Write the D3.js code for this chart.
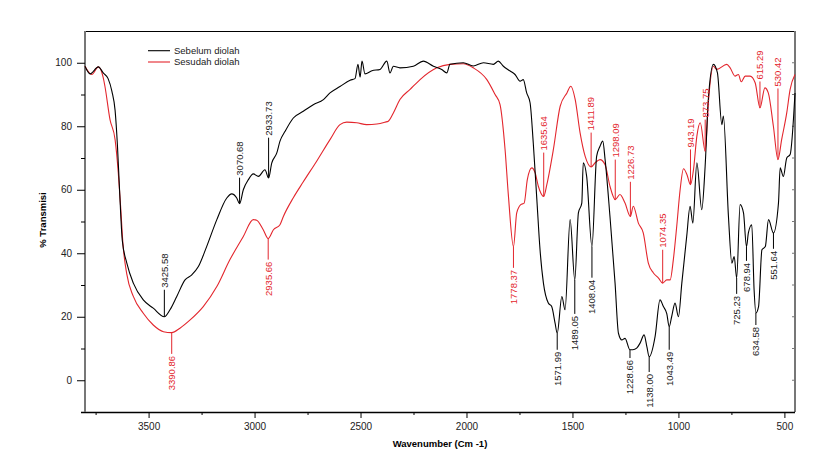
<!DOCTYPE html>
<html>
<head>
<meta charset="utf-8">
<script src="https://cdn.jsdelivr.net/npm/d3@7"></script>
<style>
  body { margin: 0; background: #fff; }
  svg { font-family: "Liberation Sans", Arial, sans-serif; }
</style>
</head>
<body>
<div id="chart"></div>
<script>
// FTIR spectra, before and after treatment

// series: Sebelum diolah (black)
const sebelumWn = [3800, 3776, 3737, 3714, 3691, 3673, 3658, 3647, 3637, 3624, 3603, 3572, 3525, 3478, 3425.58, 3399, 3367, 3328, 3296,
  3265, 3226, 3178, 3131, 3108, 3084, 3070.68, 3053, 3029, 3006, 2982, 2951, 2933.73, 2919, 2895, 2880, 2856, 2817, 2770, 2723,
  2675, 2644, 2597, 2549, 2526, 2512, 2502, 2493, 2479, 2446, 2408, 2376, 2361, 2345, 2314, 2251, 2204, 2156, 2117, 2093, 2078,
  2015, 1968, 1920, 1873, 1850, 1826, 1794, 1771, 1747, 1732, 1716, 1700, 1685, 1668, 1653, 1637, 1614, 1598, 1582, 1571.99,
  1550, 1535, 1511, 1489.05, 1472, 1456, 1449, 1433, 1408.04, 1386, 1370, 1357, 1346, 1323, 1299, 1283, 1267, 1252, 1228.66,
  1215, 1197, 1181, 1162, 1149, 1138.00, 1110, 1087, 1071, 1055, 1043.49, 1032, 1016, 1000, 984, 961, 945, 932, 913, 890, 874,
  859, 835, 816, 795, 788, 764, 748, 737, 725.23, 709, 693, 678.94, 670, 654, 643, 634.58, 622, 606, 590, 575, 551.64, 528, 520,
  505, 489, 473, 450];
const sebelumT = [98.9, 96.5, 98.7, 96.8, 95, 91, 85, 74, 60, 44, 37, 30.6, 25.3, 22.7, 20, 22.2, 26.4, 31.6, 33.2,
  35.8, 42.1, 50.6, 57.4, 58.7, 57.4, 55.6, 60, 63.2, 65, 64.2, 66.3, 63.7, 68.4, 71.6, 75.3, 78.4, 82.6, 84.7, 86.8,
  88.4, 90.5, 92.5, 94.5, 95, 99.5, 95.5, 100.5, 96.5, 97.5, 97.9, 100.5, 96.8, 98.9, 98.4, 98.9, 100.5, 98.9, 97.9, 96.8, 99.5,
  100, 99, 100, 99.5, 100.5, 98.9, 97.4, 96.3, 94.2, 94.7, 90.5, 87.4, 74.8, 56.9, 41.1, 30.6, 24.3, 23.2, 18, 14.8,
  26.4, 22.2, 50.6, 31.6, 52.7, 55.8, 68.5, 64.2, 42.1, 70.5, 73.7, 75.3, 69.5, 51.6, 30.6, 14.8, 12.7, 13.2, 9.6,
  9.6, 10.1, 11.7, 14.3, 10.6, 7.4, 13.8, 25.3, 23.2, 21, 16.9, 20, 24.3, 20, 30.6, 45.3, 54.8, 49.5, 68.5, 53.7, 67.4,
  88.4, 99.5, 96.8, 80.5, 83.2, 51.6, 36.9, 39, 32.2, 55.3, 52.7, 42.1, 46.4, 49, 28.5, 21.2, 23.2, 41.1, 42.1, 50.6, 46.4, 55.8, 66.9,
  64.2, 70, 71.1, 90.5];

// series: Sesudah diolah (red)
const sesudahWn = [3800, 3768, 3737, 3714, 3706, 3682, 3658, 3643, 3632, 3621, 3603, 3572, 3525, 3478, 3430, 3390.86, 3352, 3304,
  3242, 3178, 3116, 3053, 3006, 2990, 2959, 2935.66, 2911, 2880, 2864, 2817, 2770, 2707, 2644, 2597, 2565, 2518, 2471, 2423,
  2384, 2369, 2345, 2314, 2266, 2219, 2140, 2078, 2015, 1968, 1904, 1865, 1842, 1818, 1802, 1778.37, 1763, 1744, 1728, 1713,
  1692, 1676, 1661, 1635.64, 1621, 1590, 1558, 1526, 1508, 1487, 1464, 1440, 1411.89, 1393, 1370, 1346, 1323, 1298.09, 1276,
  1252, 1226.73, 1213, 1189, 1166, 1142, 1118, 1094, 1074.35, 1055, 1039, 1024, 1008, 992, 976, 960, 943.19, 929, 913, 897,
  873.75, 859, 835, 819, 772, 756, 733, 717, 704, 685, 662, 638, 615.29, 592, 576, 552, 530.42, 513, 489, 473, 450];
const sesudahT = [98.9, 96.3, 98.7, 95.3, 92.6, 82.1, 75.8, 65.4, 54.8, 43, 33.5, 26.4, 21.1, 17.4, 15.3, 15, 16.4, 19,
  23.2, 29.5, 38, 45.3, 50.6, 50.4, 47.4, 44.6, 47.4, 49, 51.6, 57.5, 62.5, 69, 75.8, 80.5, 81.3, 81.1, 80.5, 80.7,
  81.3, 81.6, 84.2, 88.4, 91.6, 94.7, 98.4, 99.5, 99.7, 98.4, 94.7, 90, 86.9, 72.7, 57.9, 42.1, 52.7, 55.3, 55.8, 63.2,
  66.9, 65.3, 61.1, 57.9, 61.6, 72.7, 86.3, 90.5, 92.6, 88.4, 77.9, 70.5, 67.2, 68.5, 69.5, 67.9, 61.1, 56.9, 58.5,
  55.8, 51.6, 54.8, 49.5, 46.4, 36.9, 33.8, 32.2, 30.6, 31.6, 31.6, 38, 48.5, 60, 66.6, 64.8, 61.6, 66.3, 76.9, 81.1,
  72.1, 87.4, 98.9, 97.9, 99.5, 98.4, 95.8, 96.3, 94, 95.8, 95.8, 93.7, 85.8, 92.1, 90.5, 80, 69.5, 75.8, 84.2, 91.6, 96.3];

// peak labels: value, transmittance at peak, end of leader line
const sebelumPeaks = ["3425.58", "3070.68", "2933.73", "1571.99", "1489.05", "1408.04", "1228.66", "1138.00", "1043.49", "725.23", "678.94", "634.58", "551.64"];
const sebelumPeakT = [20, 55.6, 63.7, 14.8, 31.6, 42.1, 9.6, 7.4, 16.9, 32.2, 42.1, 21.2, 46.4];
const sebelumTipT = [28.5, 63.8, 76.4, 9.6, 20.9, 32.3, 7, 2.6, 9.6, 27.2, 37.6, 17.4, 41.4];

const sesudahPeaks = ["3390.86", "2935.66", "1778.37", "1635.64", "1411.89", "1298.09", "1226.73", "1074.35", "943.19", "873.75", "615.29", "530.42"];
const sesudahPeakT = [15, 44.6, 42.1, 57.9, 67.2, 56.9, 51.6, 30.6, 61.6, 72.1, 85.8, 69.5];
const sesudahTipT = [8.3, 38, 35.4, 71.7, 78, 69.5, 62.5, 41.1, 72.7, 82.1, 94.1, 91.9];

const legendNames = ["Sebelum diolah", "Sesudah diolah"];
const xMajor = [3500, 3000, 2500, 2000, 1500, 1000, 500];
const xMinor = [3750, 3250, 2750, 2250, 1750, 1250, 750];
const yMajor = [0, 20, 40, 60, 80, 100];
const yMinor = [10, 30, 50, 70, 90];

const RED = "#e3262d";

const margin = { top: 31, right: 44, bottom: 63, left: 85 },
    width = 839 - margin.left - margin.right,
    height = 475 - margin.top - margin.bottom;

const svg = d3.select("#chart").append("svg")
    .attr("width", 839)
    .attr("height", 475);

const g = svg.append("g")
    .attr("transform", `translate(${margin.left},${margin.top})`);

const x = d3.scaleLinear().domain([3800, 450]).range([0, width]);
const y = d3.scaleLinear().domain([-10, 110]).range([height, 0]);

// frame: top border and right side
g.append("line").attr("x1", 0).attr("x2", width).attr("y1", 0.5).attr("y2", 0.5)
    .attr("stroke", "#000").attr("stroke-width", 1);
g.append("line").attr("x1", width).attr("x2", width).attr("y1", 0).attr("y2", height)
    .attr("stroke", "#777").attr("stroke-width", 2);
g.selectAll(".rtick").data(yMajor.concat(yMinor)).enter().append("line")
    .attr("x1", width - 3).attr("x2", width)
    .attr("y1", d => y(d)).attr("y2", d => y(d))
    .attr("stroke", "#777").attr("stroke-width", 1);

// x axis
const xAxis = g.append("g").attr("transform", `translate(0,${height})`)
    .call(d3.axisBottom(x).tickValues(xMajor).tickSize(6).tickPadding(5).tickFormat(d3.format("d")));
g.append("g").attr("transform", `translate(0,${height})`)
    .call(d3.axisBottom(x).tickValues(xMinor).tickSize(3).tickFormat(""))
    .select(".domain").remove();
xAxis.select(".domain").attr("d", `M-4,0.5H${width}`).attr("stroke-width", 1.3);
xAxis.selectAll("text").style("font-size", "10px").attr("fill", "#222");

// y axis
const yAxis = g.append("g")
    .call(d3.axisLeft(y).tickValues(yMajor).tickSize(8).tickPadding(5));
g.append("g")
    .call(d3.axisLeft(y).tickValues(yMinor).tickSize(4).tickFormat(""))
    .select(".domain").remove();
yAxis.select(".domain").attr("d", `M0,0V${height}`).attr("stroke", "#777").attr("stroke-width", 2);
yAxis.selectAll("text").style("font-size", "10px").attr("fill", "#222");

// axis titles
g.append("text")
    .attr("x", 355).attr("y", height + 35)
    .style("text-anchor", "middle").style("font-size", "9.5px").style("font-weight", "bold")
    .text("Wavenumber (Cm -1)");
g.append("text")
    .attr("transform", "rotate(-90)")
    .attr("x", -(220 - margin.top)).attr("y", -39)
    .style("text-anchor", "middle").style("font-size", "9.5px").style("font-weight", "bold")
    .text("% Transmisi");

// spectra
const line = d3.line().x(d => x(d[0])).y(d => y(d[1])).curve(d3.curveMonotoneX);
const sebelum = sebelumWn.map((w, i) => [w, sebelumT[i]]);
const sesudah = sesudahWn.map((w, i) => [w, sesudahT[i]]);

g.append("path").datum(sesudah).attr("d", line)
    .attr("fill", "none").attr("stroke", RED).attr("stroke-width", 1.1);
g.append("path").datum(sebelum).attr("d", line)
    .attr("fill", "none").attr("stroke", "#000").attr("stroke-width", 1.1);

// peak labels
function drawPeaks(labels, peakT, tipT, colour, textColour) {
    labels.forEach((lab, i) => {
        const px = x(+lab);
        const up = tipT[i] > peakT[i];
        g.append("line")
            .attr("x1", px).attr("x2", px)
            .attr("y1", y(peakT[i])).attr("y2", y(tipT[i]))
            .attr("stroke", colour).attr("stroke-width", 1);
        const ty = up ? y(tipT[i]) - 2 : y(tipT[i]) + 2;
        g.append("text")
            .attr("transform", `translate(${px},${ty}) rotate(-90)`)
            .attr("dy", "0.35em")
            .style("text-anchor", up ? "start" : "end")
            .style("font-size", "9.5px")
            .attr("fill", textColour)
            .text(lab);
    });
}
drawPeaks(sebelumPeaks, sebelumPeakT, sebelumTipT, "#000", "#222");
drawPeaks(sesudahPeaks, sesudahPeakT, sesudahTipT, RED, RED);

// legend
const legend = g.append("g").attr("transform", `translate(${148 - margin.left},${50.7 - margin.top})`);
legendNames.forEach((name, i) => {
    legend.append("line")
        .attr("x1", 0).attr("x2", 22).attr("y1", i * 11.3).attr("y2", i * 11.3)
        .attr("stroke", i === 0 ? "#000" : RED).attr("stroke-width", 1.1);
    legend.append("text")
        .attr("x", 26).attr("y", i * 11.3).attr("dy", "0.35em")
        .style("font-size", "9.5px").attr("fill", "#222")
        .text(name);
});
</script>
</body>
</html>
